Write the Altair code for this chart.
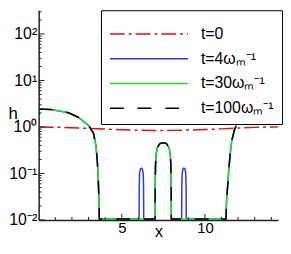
import altair as alt
import pandas as pd

# ---- data ----
labels = ["t=0", "t=4ωₘ⁻¹", "t=30ωₘ⁻¹", "t=100ωₘ⁻¹"]
colors = ["#dd1111", "#3333ff", "#22dd22", "#000000"]
dashes = [[15, 4, 3, 4], [1, 0], [1, 0], [14, 14]]

x_t0 = [0, 1, 2, 3, 4, 5, 6, 7, 8, 9, 10, 11, 12, 13, 14, 15]
h_t0 = [1.0, 0.99, 0.96, 0.93, 0.9, 0.87, 0.85, 0.84, 0.845, 0.86, 0.88, 0.91, 0.95, 0.98, 1.0, 1.01]

x_t4 = [0, 0.8, 1.8, 2.4, 3.0, 3.3, 3.45, 3.53, 3.59, 3.63, 3.65,
        6.04, 6.05, 6.07, 6.12, 6.18, 6.24, 6.29, 6.31, 6.32,
        7.0, 7.01, 7.03, 7.06, 7.14, 7.29, 7.49, 7.69, 7.84, 7.92, 7.95, 7.97, 7.98,
        8.60, 8.61, 8.63, 8.68, 8.74, 8.80, 8.85, 8.87, 8.88,
        11.27, 11.3, 11.37, 11.43, 11.51, 11.61, 11.77, 11.92, 12.15, 12.5, 13.1, 14.1, 15.0]
h_t4 = [2.44, 2.36, 2.02, 1.6, 1.08, 0.73, 0.39, 0.178, 0.07, 0.023, 0.0105,
        0.0105, 0.05, 0.1, 0.125, 0.13, 0.125, 0.1, 0.05, 0.0105,
        0.0105, 0.06, 0.15, 0.25, 0.36, 0.44, 0.457, 0.44, 0.36, 0.25, 0.15, 0.06, 0.0105,
        0.0105, 0.05, 0.1, 0.125, 0.13, 0.125, 0.1, 0.05, 0.0105,
        0.0105, 0.025, 0.055, 0.11, 0.24, 0.5, 0.85, 1.15, 1.4, 1.65, 2.02, 2.36, 2.44]

x_t30 = [0, 0.8, 1.8, 2.4, 3.0, 3.3, 3.45, 3.53, 3.59, 3.63, 3.65,
         7.0, 7.01, 7.03, 7.06, 7.14, 7.29, 7.49, 7.69, 7.84, 7.92, 7.95, 7.97, 7.98,
         11.27, 11.3, 11.37, 11.43, 11.51, 11.61, 11.77, 11.92, 12.15, 12.5, 13.1, 14.1, 15.0]
h_t30 = [2.44, 2.36, 2.02, 1.6, 1.08, 0.73, 0.39, 0.178, 0.07, 0.023, 0.0105,
         0.0105, 0.06, 0.15, 0.25, 0.36, 0.44, 0.457, 0.44, 0.36, 0.25, 0.15, 0.06, 0.0105,
         0.0105, 0.025, 0.055, 0.11, 0.24, 0.5, 0.85, 1.15, 1.4, 1.65, 2.02, 2.36, 2.44]

x_t100 = [0, 0.8, 1.8, 2.4, 3.0, 3.3, 3.45, 3.53, 3.59, 3.63, 3.65,
          7.0, 7.01, 7.03, 7.06, 7.14, 7.29, 7.49, 7.69, 7.84, 7.92, 7.95, 7.97, 7.98,
          11.27, 11.3, 11.37, 11.43, 11.51, 11.61, 11.77, 11.92, 12.15, 12.5, 13.1, 14.1, 15.0]
h_t100 = [2.44, 2.36, 2.02, 1.6, 1.08, 0.73, 0.39, 0.178, 0.07, 0.023, 0.0105,
          0.0105, 0.06, 0.15, 0.25, 0.36, 0.44, 0.457, 0.44, 0.36, 0.25, 0.15, 0.06, 0.0105,
          0.0105, 0.025, 0.055, 0.11, 0.24, 0.5, 0.85, 1.15, 1.4, 1.65, 2.02, 2.36, 2.44]

y_tick_values = [0.01, 0.1, 1, 10, 100]
y_tick_labels = ["10⁻²", "10⁻¹", "10⁰", "10¹", "10²"]
y_minor = [0.02, 0.03, 0.04, 0.05, 0.06, 0.07, 0.08, 0.09,
           0.2, 0.3, 0.4, 0.5, 0.6, 0.7, 0.8, 0.9,
           2, 3, 4, 5, 6, 7, 8, 9,
           20, 30, 40, 50, 60, 70, 80, 90, 200, 300]
x_tick_values = [5, 10]
x_minor = [1, 2, 3, 4, 6, 7, 8, 9, 11, 12, 13, 14]

W, H = 242, 212
x_domain = [0, 14.40]
y_domain = [0.01, 324]

# ---- build tables ----
series = [(labels[0], x_t0, h_t0), (labels[1], x_t4, h_t4),
          (labels[2], x_t30, h_t30), (labels[3], x_t100, h_t100)]
rows = []
for name, xs, hs in series:
    for xv, hv in zip(xs, hs):
        rows.append({"series": name, "x": xv, "h": hv})
df = pd.DataFrame(rows)

xscale = alt.Scale(domain=x_domain, nice=False, zero=False)
yscale = alt.Scale(type="log", domain=y_domain, nice=False)

label_expr = " : ".join(
    f"datum.value == {v} ? '{l}'" for v, l in zip(y_tick_values, y_tick_labels)
) + " : ''"

leg = alt.Legend(
    title=" ", titleFontSize=4, titlePadding=4,
    orient="none", legendX=63, legendY=0,
    symbolType="stroke", symbolSize=6241, symbolStrokeWidth=1.5,
    clipHeight=16, rowPadding=9,
    labelFontSize=16, labelOffset=12, labelLimit=200, labelColor="black",
    padding=8, strokeColor="black", fillColor="white", zindex=1,
)

color = alt.Color("series:N", scale=alt.Scale(domain=labels, range=colors), legend=leg)
dash = alt.StrokeDash("series:N", scale=alt.Scale(domain=labels, range=dashes), legend=leg)

xaxis = alt.Axis(
    values=x_tick_values, title="x", ticks=False, grid=False,
    labelFontSize=15, labelPadding=1, titleFontSize=16, titleFontWeight="normal",
    titleY=4, titleBaseline="top",
    domainColor="#222", domainWidth=1.5, labelColor="black", titleColor="black")
yaxis = alt.Axis(
    values=y_tick_values, labelExpr=label_expr, ticks=False, grid=False,
    labelFontSize=16, labelPadding=2, labelColor="black",
    title="h", titleAngle=0, titleX=-31, titleY=104, titleAlign="left",
    titleBaseline="middle", titleFontSize=17, titleFontWeight="normal", titleColor="black",
    domainColor="#222", domainWidth=1.5)

xenc = alt.X("x:Q", scale=xscale, axis=xaxis, title="x")
yenc = alt.Y("h:Q", scale=yscale, axis=yaxis, title="h")

layers = []
for name in labels:
    layers.append(
        alt.Chart(df).transform_filter(alt.datum.series == name)
        .mark_line(clip=True, strokeWidth=1.5)
        .encode(x=xenc, y=yenc, color=color, strokeDash=dash)
    )

ymaj = alt.Chart(pd.DataFrame({"h": y_tick_values})).mark_rule(color="#222", strokeWidth=1).encode(
    y=yenc, x=alt.value(0), x2=alt.value(6))
ymin = alt.Chart(pd.DataFrame({"h": y_minor})).mark_rule(color="#222", strokeWidth=1).encode(
    y=yenc, x=alt.value(0), x2=alt.value(3))
xmaj = alt.Chart(pd.DataFrame({"x": x_tick_values})).mark_rule(color="#222", strokeWidth=1).encode(
    x=xenc, y=alt.value(H), y2=alt.value(H - 6))
xmin = alt.Chart(pd.DataFrame({"x": x_minor})).mark_rule(color="#222", strokeWidth=1).encode(
    x=xenc, y=alt.value(H), y2=alt.value(H - 3))

chart = alt.layer(*layers, ymaj, ymin, xmaj, xmin).properties(
    width=W, height=H, padding=0
).configure(font="Liberation Sans").configure_view(stroke="transparent")

chart.save("out.html", embed_options={"renderer": "svg", "actions": False})
